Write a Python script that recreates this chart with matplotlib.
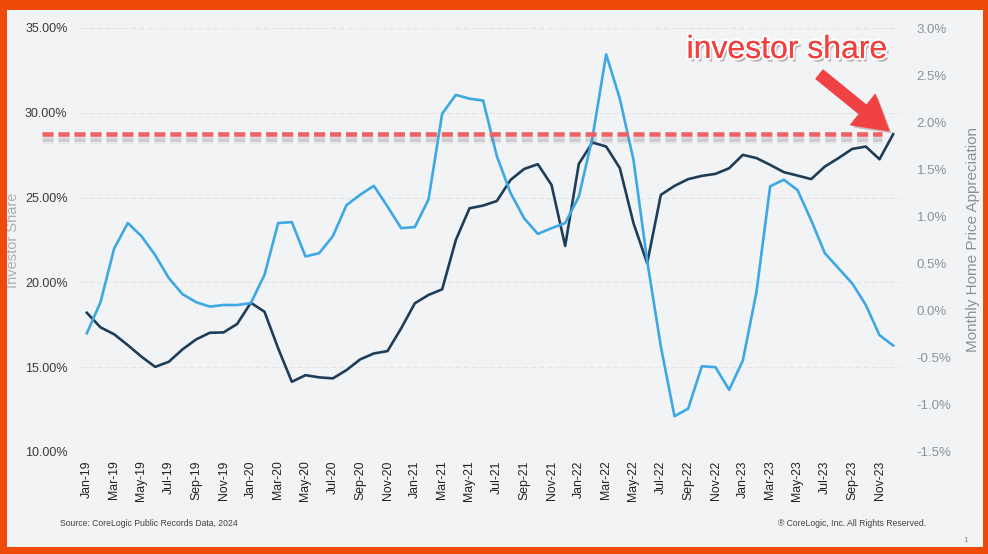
import matplotlib
matplotlib.use("Agg")
import matplotlib.pyplot as plt
import matplotlib.patheffects as pe
from matplotlib.patches import Rectangle
import numpy as np
import pandas as pd

# monthly data, Jan-2019 .. Dec-2023
months = pd.date_range("2019-01-01", periods=60, freq="MS").strftime("%b-%y").tolist()

investor_share = [18.21, 17.35, 16.94, 16.30, 15.62, 15.02, 15.32, 16.05, 16.64, 17.03,
                  17.05, 17.55, 18.80, 18.27, 16.11, 14.14, 14.53, 14.40, 14.34, 14.83,
                  15.46, 15.81, 15.95, 17.29, 18.77, 19.26, 19.59, 22.50, 24.37, 24.53,
                  24.80, 26.04, 26.69, 26.97, 25.75, 22.15, 26.99, 28.25, 28.01, 26.74,
                  23.49, 21.13, 25.16, 25.69, 26.09, 26.28, 26.40, 26.73, 27.52, 27.33,
                  26.93, 26.50, 26.30, 26.09, 26.83, 27.33, 27.87, 28.01, 27.26, 28.74]

price_appreciation = [-0.24, 0.09, 0.66, 0.93, 0.79, 0.59, 0.345, 0.175, 0.09, 0.043,
                      0.06, 0.06, 0.08, 0.38, 0.93, 0.94, 0.575, 0.61, 0.79, 1.12,
                      1.23, 1.325, 1.105, 0.876, 0.887, 1.18, 2.09, 2.29, 2.25, 2.23,
                      1.64, 1.25, 0.98, 0.815, 0.875, 0.93, 1.21, 1.84, 2.72, 2.25,
                      1.60, 0.53, -0.38, -1.12, -1.04, -0.59, -0.60, -0.84, -0.53, 0.20,
                      1.32, 1.39, 1.28, 0.96, 0.61, 0.45, 0.29, 0.06, -0.26, -0.37]

left_ticks = [10, 15, 20, 25, 30, 35]
right_ticks = [-1.5, -1.0, -0.5, 0.0, 0.5, 1.0, 1.5, 2.0, 2.5, 3.0]

plt.rcParams['font.family'] = ['Liberation Sans', 'DejaVu Sans']
plt.rcParams['lines.scale_dashes'] = False

W, H = 988, 554
fig = plt.figure(figsize=(W / 100, H / 100), dpi=100)
fig.patch.set_facecolor('#F2F3F5')

# orange frame
frame = '#EE4A0A'
for (x0, y0, w, h) in [(0, 0, 7, H), (W - 5, 0, 5, H), (0, H - 10, W, 10), (0, 0, W, 7)]:
    fig.add_artist(Rectangle((x0 / W, y0 / H), w / W, h / H, transform=fig.transFigure,
                             facecolor=frame, edgecolor='none', zorder=10))

ax = fig.add_axes([80 / W, 1 - 452 / H, 820 / W, 424 / H])
ax.set_facecolor('none')
x = np.arange(len(months))

ax.plot(x, investor_share, color='#1E3D59', lw=1.9, zorder=3)
ax.set_ylim(10, 35)
ax.set_xlim(-0.5, len(months) - 0.5)
ax.set_yticks(left_ticks)
ax.set_yticklabels([f"{v:.2f}%" for v in left_ticks])
ax.set_xticks(x[::2])
ax.set_xticklabels(months[::2], rotation=90)
ax.tick_params(axis='y', length=0, pad=9, labelsize=9, labelcolor='#3A3A3A')
ax.tick_params(axis='x', length=0, pad=6, labelsize=8.8, labelcolor='#222222')
for s in ax.spines.values():
    s.set_visible(False)
for v in left_ticks[1:]:
    ax.axhline(v, color='#E2E4E7', lw=0.8, ls=(0, (4, 2)), zorder=1)
ax.axhline(left_ticks[0], color='#D9DBDE', lw=1, zorder=1)
ax.set_ylabel('Investor Share', color='#A9AFB5', fontsize=10.5)
ax.yaxis.set_label_coords(-60 / 820, 0.5)

ax2 = ax.twinx()
ax2.plot(x, price_appreciation, color='#3DA8E3', lw=1.9, zorder=3)
ax2.set_ylim(-1.5, 3.0)
ax2.set_yticks(right_ticks)
ax2.set_yticklabels([f"{v:.1f}%" for v in right_ticks])
ax2.tick_params(axis='y', length=0, pad=12, labelsize=9.5, labelcolor='#8A9299')
for s in ax2.spines.values():
    s.set_visible(False)
ax2.set_ylabel('Monthly Home Price Appreciation', color='#8A9299', fontsize=11)
ax2.yaxis.set_label_coords(1 + 66 / 820, 0.5)

# dashed reference at latest investor share
last = investor_share[-1]
ax2.plot([-3.3, 58.2], [last, last], transform=ax.transData, clip_on=False,
         color='#F06262', lw=3.3, dashes=(8, 3.5), zorder=6,
         path_effects=[pe.SimpleLineShadow(offset=(0, -3.5), shadow_color='#666666', alpha=0.2),
                       pe.SimpleLineShadow(offset=(0, -5), shadow_color='#888888', alpha=0.12),
                       pe.Normal()])

# arrow + label
arrow = ax2.annotate('', xy=(x[-1], last), xycoords=ax.transData,
                     xytext=(-53, 43), textcoords='offset points',
                     arrowprops=dict(arrowstyle='simple,head_width=1.4,head_length=1.2,tail_width=0.4',
                                     mutation_scale=20, color='#F04242', shrinkA=0, shrinkB=4),
                     zorder=7, annotation_clip=False)
arrow.arrow_patch.set_path_effects([pe.SimplePatchShadow(offset=(2, -2), alpha=0.25), pe.Normal()])

fig.text(787 / W, 1 - 50 / H, 'investor share', ha='center', va='center', fontsize=23,
         color='#F2403F', zorder=8,
         path_effects=[pe.SimplePatchShadow(offset=(2, -2.5), alpha=0.3),
                       pe.withStroke(linewidth=3, foreground='white'), pe.Normal()])

fig.text(60 / W, 1 - 523 / H, 'Source: CoreLogic Public Records Data, 2024', fontsize=6.2,
         color='#404040', va='center')
fig.text(926 / W, 1 - 523 / H, '® CoreLogic, Inc. All Rights Reserved.', fontsize=6.2,
         color='#404040', va='center', ha='right')
fig.text(966 / W, 1 - 540 / H, '1', fontsize=6, color='#888888', va='center', ha='center')

fig.savefig('out.png', dpi=100, facecolor=fig.get_facecolor())
